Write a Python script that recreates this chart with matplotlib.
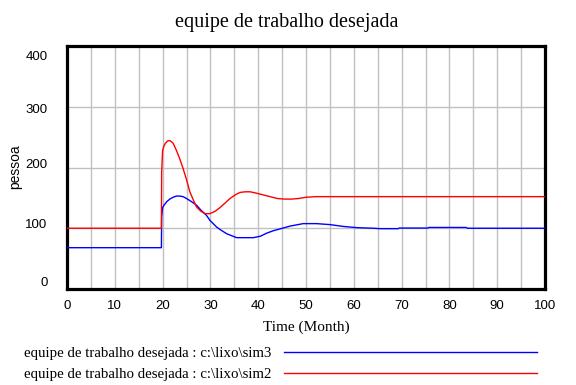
import matplotlib
matplotlib.use("Agg")
import matplotlib.pyplot as plt
import matplotlib.transforms as mtransforms

# ---- data ----
title = "equipe de trabalho desejada"
xlabel = "Time (Month)"
ylabel = "pessoa"
label_sim3 = "equipe de trabalho desejada : c:\\lixo\\sim3"
label_sim2 = "equipe de trabalho desejada : c:\\lixo\\sim2"

t_sim2 = [0, 19.75, 19.8, 20.0, 20.3, 20.6, 21.1, 21.6, 22.2, 22.9, 23.6, 24.3, 25.0,
          25.7, 26.4, 27.1, 28.0, 28.9, 29.9, 31.0, 32.0, 33.0, 34.1, 35.2, 36.2,
          37.3, 38.3, 39.5, 41.0, 42.5, 44.0, 45.5, 47.0, 48.5, 50.0, 52.0, 100]
v_sim2 = [100, 100, 192, 228, 236, 240, 244, 244, 240, 228, 214, 198, 180,
          160, 147, 135, 128, 124, 124, 128, 134, 141, 149, 155, 159,
          160, 160, 158, 155, 152, 149, 148, 148, 149, 151, 152, 152]

t_sim3 = [0, 19.75, 19.8, 20.0, 20.3, 20.9, 21.5, 22.2, 22.9, 23.6, 24.3, 25.0,
          26.0, 27.1, 28.0, 29.2, 29.9, 31.3, 32.0, 33.4, 34.8, 35.5, 36.9, 39.0,
          40.5, 41.8, 43.2, 44.6, 46.7, 49.4, 52.2, 55.0, 57.8, 60.6, 64.0, 65.5,
          69.3, 69.5, 75.5, 75.7, 83.5, 83.8, 100]
v_sim3 = [68, 68, 118, 134, 138, 144, 148, 151, 153, 153, 152, 149,
          144, 138, 130, 121, 113, 102, 98, 91, 86.6, 84.5, 84.5, 84.5,
          87, 92, 96, 99, 103.6, 107.6, 107.6, 106, 103, 101, 100, 99.3,
          99.3, 100.3, 100.3, 101.3, 101.3, 100, 100]

xticks = [0, 10, 20, 30, 40, 50, 60, 70, 80, 90, 100]
yticks = [0, 100, 200, 300, 400]

# ---- figure ----
fig = plt.figure(figsize=(5.76, 3.85), dpi=100)
ax = fig.add_axes([67 / 576, 1 - 289 / 385, (545 - 67) / 576, (289 - 46) / 385])

serif = ["Liberation Serif", "DejaVu Serif"]
sans = ["Liberation Sans", "DejaVu Sans"]

ax.plot(t_sim3, v_sim3, color="#0000ff", lw=1.0, label=label_sim3, zorder=3)
ax.plot(t_sim2, v_sim2, color="#ff0000", lw=1.0, label=label_sim2, zorder=3)

ax.set_xlim(0, 100)
ax.set_ylim(0, 400)

# grid: vertical every 5, horizontal every 100
for xv in range(5, 100, 5):
    ax.axvline(xv, color="#c0c0c0", lw=1.0, zorder=1)
for yv in (100, 200, 300):
    ax.axhline(yv, color="#c0c0c0", lw=1.0, zorder=1)

for s in ax.spines.values():
    s.set_linewidth(2.3)
    s.set_color("black")

ax.set_xticks(xticks)
ax.set_yticks(yticks)
ax.tick_params(axis="both", length=0, labelsize=9.5)
ax.tick_params(axis="x", pad=8)
ax.tick_params(axis="y", pad=14)
for lab in ax.get_xticklabels() + ax.get_yticklabels():
    lab.set_family(sans)

# Vensim-style y label offsets (labels evenly spread inside the frame)
offsets_px = [8, 5, 4, -2, -9]
for lab, off in zip(ax.get_yticklabels(), offsets_px):
    lab.set_transform(lab.get_transform() +
                      mtransforms.ScaledTranslation(0, off / 100, fig.dpi_scale_trans))

ax.set_xlabel(xlabel, family=serif, fontsize=11, labelpad=6)
fig.text(15 / 576, 1 - 167 / 385, ylabel, rotation=90, ha="center", va="center",
         family=sans, fontsize=10)
fig.text(287 / 576, 1 - 22 / 385, title, ha="center", va="center",
         family=serif, fontsize=14.5)

leg = fig.legend(handles=ax.get_lines()[:2], loc="upper left",
                 bbox_to_anchor=(24 / 576, 1 - 347 / 385),
                 markerfirst=False, frameon=False, prop={"family": serif, "size": 10.7},
                 handlelength=17.0, handletextpad=0.87, labelspacing=0.5,
                 borderaxespad=0, borderpad=0)

fig.savefig("out.png", dpi=100)
